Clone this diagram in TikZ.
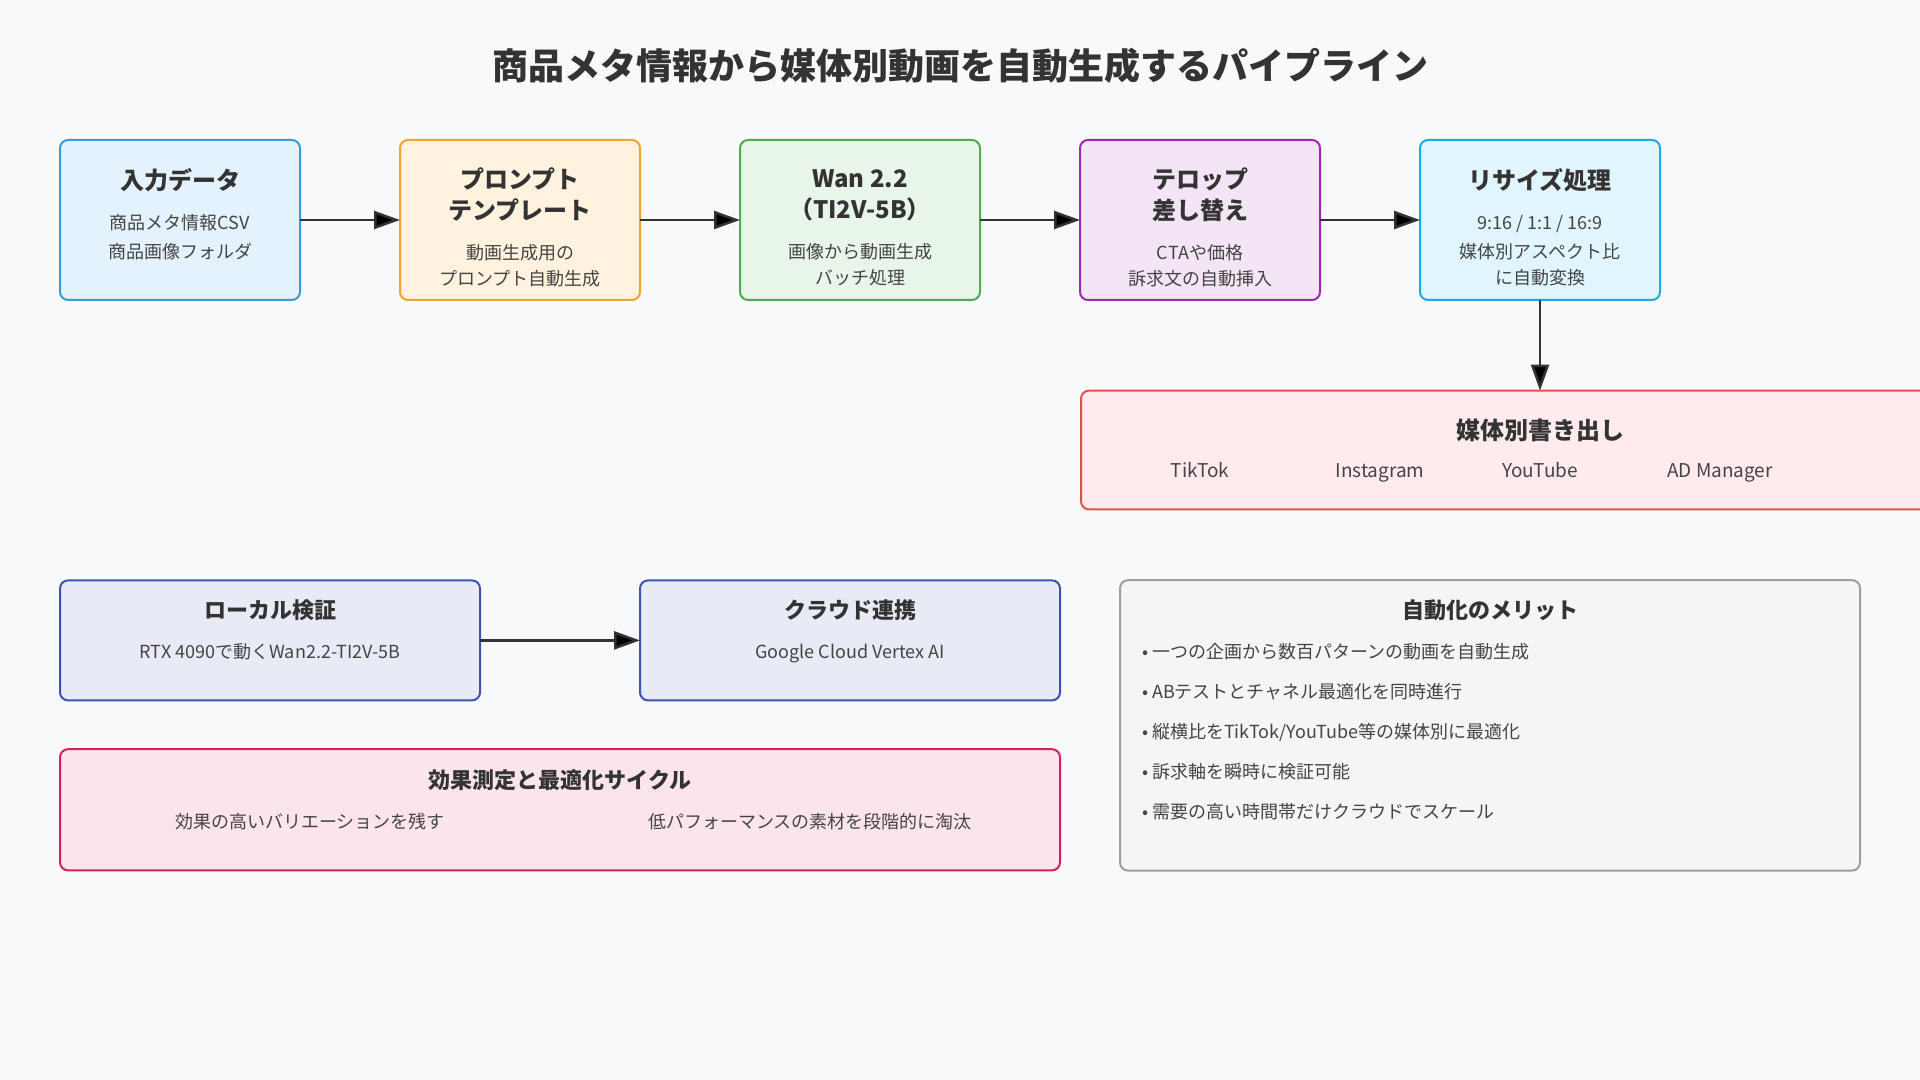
\documentclass[tikz,border=0pt]{standalone}
\usepackage{fontspec}
\setmainfont{Noto Sans CJK JP}
\usetikzlibrary{arrows.meta,positioning}

\definecolor{bg}{HTML}{F8F9FA}
\definecolor{ink}{HTML}{333333}
\definecolor{soft}{HTML}{444444}
\definecolor{blueF}{HTML}{E3F2FD}   \definecolor{blueD}{HTML}{3C99DC}
\definecolor{orangeF}{HTML}{FFF3E0} \definecolor{orangeD}{HTML}{F2A12E}
\definecolor{greenF}{HTML}{E8F5E9}  \definecolor{greenD}{HTML}{4CAF50}
\definecolor{purpleF}{HTML}{F3E5F5} \definecolor{purpleD}{HTML}{9C27B0}
\definecolor{cyanF}{HTML}{E1F5FE}   \definecolor{cyanD}{HTML}{1AAAE6}
\definecolor{redF}{HTML}{FFEBEE}    \definecolor{redD}{HTML}{E0504A}
\definecolor{indigoF}{HTML}{E8EAF6} \definecolor{indigoD}{HTML}{3F51B5}
\definecolor{pinkF}{HTML}{FCE4EC}   \definecolor{pinkD}{HTML}{D41F62}
\definecolor{grayF}{HTML}{F5F5F5}   \definecolor{grayD}{HTML}{9E9E9E}

\newcommand{\subfont}{\fontsize{9pt}{13pt}\selectfont\color{soft}}
% height, width, top gap, title size, title, body
\newcommand{\boxtext}[6]{%
	\parbox[c][#1][t]{#2}{\centering\vspace*{#3}%
		{\fontsize{#4}{15.5pt}\selectfont\bfseries\color{ink}\vphantom{国}#5\par}%
		\vspace{7pt}{\subfont#6\par}}}
\newcommand{\stagetext}[2]{\boxtext{80pt}{116pt}{14pt}{12pt}{#1}{#2}}

\tikzset{
	-{Triangle[length=13pt,width=9pt]},node distance =50pt and 50pt,
	stage/.style ={rectangle, rounded corners=4pt, draw, line width=1pt, inner sep=0pt, outer sep=0pt,
		minimum width=120pt, minimum height=80pt},
	flow/.style ={draw=ink, line width=1.25pt},
	item/.style ={inner sep=0pt, text height=7pt, text depth=2pt, text=soft,
		font=\fontsize{9.5pt}{12pt}\selectfont}
}

\begin{document}
\begin{tikzpicture}[x=1pt,y=-1pt]
	\useasboundingbox (0,0) rectangle (960,540);
	\fill[bg] (0,0) rectangle (960,540);
	\clip (0,0) rectangle (960,540);

	\node (title) at (480,33) {\fontsize{18pt}{22pt}\selectfont\bfseries\color{ink}商品メタ情報から媒体別動画を自動生成するパイプライン};

	% pipeline
	\node (1) [stage, fill=blueF, draw=blueD] at (90,110) {\stagetext{入力データ}{商品メタ情報CSV\\[1.5pt]商品画像フォルダ}};
	\node (2) [stage, fill=orangeF, draw=orangeD, right = of 1] {\stagetext{プロンプト\\テンプレート}{動画生成用の\\プロンプト自動生成}};
	\node (3) [stage, fill=greenF, draw=greenD, right = of 2] {\stagetext{Wan 2.2\\（TI2V-5B）}{画像から動画生成\\バッチ処理}};
	\node (4) [stage, fill=purpleF, draw=purpleD, right = of 3] {\stagetext{テロップ\\差し替え}{CTAや価格\\訴求文の自動挿入}};
	\node (5) [stage, fill=cyanF, draw=cyanD, right = of 4] {\stagetext{リサイズ処理}{9:16 / 1:1 / 16:9\\[1.5pt]媒体別アスペクト比\\に自動変換}};

	\path (1) [flow] edge (2);
	\path (2) [flow] edge (3);
	\path (3) [flow] edge (4);
	\path (4) [flow] edge (5);

	% export
	\node (6) [stage, fill=redF, draw=redD, below = 45.3pt of 5, minimum width=459pt, minimum height=59.4pt]
		{\parbox[c][59.4pt][t]{300pt}{\centering\vspace*{14.3pt}\fontsize{12pt}{15pt}\selectfont\bfseries\color{ink}\vphantom{国}媒体別書き出し}};
	\node (6a) [item] at (600,236.3) {TikTok};
	\node (6b) [item] at (690,236.3) {Instagram};
	\node (6c) [item] at (770,236.3) {YouTube};
	\node (6d) [item] at (860,236.3) {AD Manager};

	\path (5) [flow] edge (6);

	% local / cloud
	\node (7) [stage, fill=indigoF, draw=indigoD, minimum width=210pt, minimum height=60pt] at (135,320.2)
		{\boxtext{60pt}{206pt}{9.8pt}{11pt}{ローカル検証}{RTX 4090で動くWan2.2-TI2V-5B}};
	\node (8) [stage, fill=indigoF, draw=indigoD, minimum width=210pt, minimum height=60pt, right = 80pt of 7]
		{\boxtext{60pt}{206pt}{9.8pt}{11pt}{クラウド連携}{Google Cloud Vertex AI}};

	\path (7) [flow] edge (8);

	% cycle
	\node (9) [stage, fill=pinkF, draw=pinkD, minimum width=500pt, minimum height=60.6pt] at (280,404.9)
		{\boxtext{60.6pt}{500pt}{10.4pt}{11pt}{効果測定と最適化サイクル}{\makebox[250pt]{効果の高いバリエーションを残す}\makebox[250pt]{低パフォーマンスの素材を段階的に淘汰}}};

	% merits
	\node (10) [stage, fill=grayF, draw=grayD, minimum width=370pt, minimum height=145.2pt] at (745,362.7)
		{\boxtext{145.2pt}{370pt}{9.8pt}{11pt}{自動化のメリット}{\vspace*{-7pt}\raggedright\leftskip=11pt\baselineskip=20pt
			•\ 一つの企画から数百パターンの動画を自動生成\\
			•\ ABテストとチャネル最適化を同時進行\\
			•\ 縦横比をTikTok/YouTube等の媒体別に最適化\\
			•\ 訴求軸を瞬時に検証可能\\
			•\ 需要の高い時間帯だけクラウドでスケール}};

\end{tikzpicture}
\end{document}
